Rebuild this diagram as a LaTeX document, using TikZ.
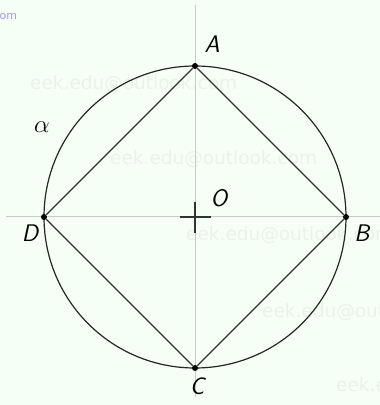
\documentclass[tikz,border=0pt]{standalone}
\usepackage{fontspec}
\newfontfamily\wm{DejaVu Sans}
\definecolor{bg}{HTML}{F6FFF6}
\definecolor{axisc}{HTML}{C8CCC8}
\definecolor{wmc}{HTML}{ECF1EC}
\definecolor{wmb}{HTML}{9C9CF0}
\begin{document}
\begin{tikzpicture}[x=1pt,y=1pt,
  lab/.style={font=\fontsize{24}{28}\selectfont\sffamily\slshape, inner sep=0pt},
  wmark/.style={font=\fontsize{18.5}{20}\selectfont\wm, text=wmc, inner sep=0pt, anchor=west},
  pt/.style={circle, fill=black, inner sep=0pt, minimum size=6pt},
  axis/.style={draw=axisc, line width=1pt},
  edge/.style={draw=black!80, line width=1.1pt}]
\fill[bg] (0,0) rectangle (380,405);
\useasboundingbox (0,0) rectangle (380,405);
% watermarks
\node[wmark] (w1) at (30,321) {eek.edu@outlook.com};
\node[wmark] (w2) at (110,246) {eek.edu@outlook.com};
\node[wmark] (w3) at (186,170) {eek.edu@outlook.com};
\node[wmark] (w4) at (262,93) {eek.edu@outlook.com};
\node[wmark] (w5) at (336,19) {eek.edu@outlook.com};
\node[font=\fontsize{11}{13}\selectfont\wm, text=wmb, inner sep=0pt, anchor=west] (w0) at (-10,389) {.com};
% axes
\coordinate (xl) at (6,188);
\coordinate (xr) at (380,188);
\coordinate (yb) at (195,8);
\coordinate (yt) at (195,400);
\draw[axis] (xl) -- (xr);
\draw[axis] (yt) -- (yb);
% circle
\coordinate (O) at (195,188);
\draw[black!85, line width=1.2pt] (O) circle (151);
% points
\node[pt] (A) at (195,339) {};
\node[pt] (B) at (346,188) {};
\node[pt] (C) at (195,37) {};
\node[pt] (D) at (44,188) {};
\draw[edge] (A) -- (B) -- (C) -- (D) -- (A);
% cross at O
\coordinate (cl) at (180,188);
\coordinate (cr) at (211,188);
\coordinate (ct) at (195,203);
\coordinate (cb) at (195,172);
\draw[black!80, line width=1.2pt] (cl) -- (cr);
\draw[black!80, line width=1.2pt] (ct) -- (cb);
% labels
\node[lab] (lA) at (212,361) {A};
\node[lab] (lB) at (362,172) {B};
\node[lab] (lC) at (197,19) {C};
\node[lab] (lD) at (30,172) {D};
\node[lab] (lO) at (219,207) {O};
\node[font=\fontsize{24}{28}\selectfont, inner sep=0pt] (al) at (42,278) {$\alpha$};
\end{tikzpicture}
\end{document}
